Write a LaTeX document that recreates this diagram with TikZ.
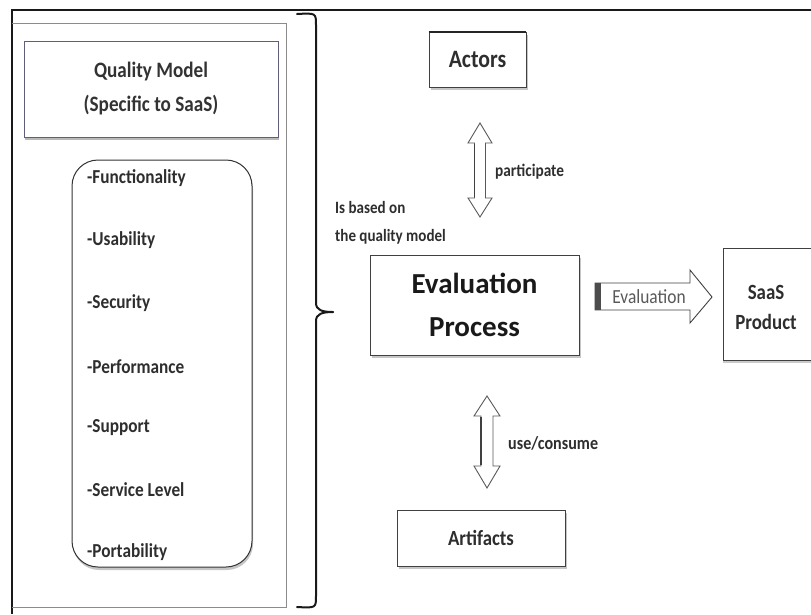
\documentclass[tikz,border=0pt]{standalone}
\usepackage{fontspec}
\setmainfont{Carlito}
\newfontfamily\cond{Carlito}[FakeStretch=0.87]
\usetikzlibrary{shadows,calc}
\tikzset{
  pbox/.style={draw=black!75, line width=0.9pt, fill=white, inner sep=0pt,
    drop shadow={shadow xshift=1.5pt, shadow yshift=-2.5pt, opacity=0.45}},
  item/.style={anchor=west, inner sep=0pt, font=\cond\bfseries\fontsize{19.8}{22}\selectfont, text=black!82},
  lbl/.style={inner sep=0pt, text=black!82},
  blockarrow/.style={draw=black!65, line width=0.9pt, fill=white, line join=miter},
}
\begin{document}
\begin{tikzpicture}[x=1pt,y=-1pt]
\useasboundingbox (0,0) rectangle (811,614);
% outer frame
\draw[line width=1.8pt, black!90] (12,614) -- (12,10) -- (811,10);
% left panel
\draw[draw=black!45, line width=1pt] (12,23) -- (286,23) -- (286,607) -- (12,607);
% quality model box
\node[draw={rgb,255:red,95;green,95;blue,125}, line width=1pt, fill=white,
  minimum width=254pt, minimum height=96pt, inner sep=0pt,
  drop shadow={shadow xshift=0.5pt, shadow yshift=-3pt, opacity=0.55},
  align=center, font=\cond\bfseries\fontsize{22}{34}\selectfont, text=black!80]
  (qm) at (151,89) {Quality Model\\(Specific to SaaS)};
% rounded list box
\node[draw=black!80, line width=1pt, fill=white, rounded corners=26pt,
  minimum width=180pt, minimum height=407pt, inner sep=0pt,
  drop shadow={shadow xshift=1pt, shadow yshift=-3pt, opacity=0.45}]
  (list) at (162,363.5) {};
\node[item] (i1) at (87,178) {-Functionality};
\node[item] (i2) at (87,240) {-Usability};
\node[item] (i3) at (87,303) {-Security};
\node[item] (i4) at (87,367) {-Performance};
\node[item] (i5) at (87,428) {-Support};
\node[item] (i6) at (87,490) {-Service Level};
\node[item] (i7) at (87,552) {-Portability};
% brace
\draw[line width=2pt, black!90, line cap=round]
  (297,14) .. controls (316,13) .. (316,25) -- (316,303)
  .. controls (316,310) and (322,312) .. (333,312);
\draw[line width=2pt, black!90, line cap=round]
  (333,312) .. controls (322,312) and (316,314) .. (316,321) -- (316,596)
  .. controls (316,608) .. (297,607);
% main boxes
\node[pbox, minimum width=97pt, minimum height=55pt, text=black!82,
  font=\cond\bfseries\fontsize{25}{27}\selectfont] (actors) at (477.5,59.5) {Actors};
\draw[line width=2pt, black!85] (actors.north west) -- (actors.north east);
\node[pbox, minimum width=209pt, minimum height=100pt, align=center, text=black!90,
  font=\fontsize{29}{43}\selectfont\bfseries] (ep) at (474.5,305) {Evaluation\\Process};
\node[pbox, minimum width=168pt, minimum height=56pt, text=black!82,
  font=\cond\bfseries\fontsize{21.6}{24}\selectfont] (art) at (481,538) {Artifacts};
% SaaS product box (cut at right edge)
\fill[black!35, opacity=0.6] (723,360) rectangle (811,363);
\draw[draw=black!75, line width=0.9pt, fill=white] (811,248) -- (723,248) -- (723,360) -- (811,360);
\node[lbl, align=center, font=\cond\bfseries\fontsize{21.7}{30}\selectfont] (saas) at (766,307) {SaaS\\Product};
% participate double arrow
\draw[blockarrow] (480,123) -- (492,143) -- (485.5,143) -- (485.5,198) -- (492,198)
  -- (480,217) -- (468,198) -- (474.5,198) -- (474.5,143) -- (468,143) -- cycle;
\draw[line width=1.6pt, black!75] (474.5,144) -- (474.5,197);
\node[lbl, anchor=west, font=\cond\bfseries\fontsize{17.6}{19}\selectfont] (part) at (495,172) {participate};
% use/consume double arrow
\draw[blockarrow] (487,396) -- (500,416) -- (493,416) -- (493,466) -- (500,466)
  -- (487,488) -- (474,466) -- (481,466) -- (481,416) -- (474,416) -- cycle;
\draw[line width=1.6pt, black!75] (481,417) -- (481,465);
\node[lbl, anchor=west, font=\cond\bfseries\fontsize{18.5}{20}\selectfont] (use) at (508,443) {use/consume};
% is based on
\node[lbl, anchor=west, align=left, font=\cond\bfseries\fontsize{17.3}{28}\selectfont] (based) at (335,223)
  {Is based on\\the quality model};
% evaluation arrow
\draw[blockarrow, draw=black!75] (595,283) -- (690,283) -- (690,270) -- (712,297) -- (690,323)
  -- (690,310) -- (595,310) -- cycle;
\fill[black!70] (595,283) rectangle (601,310);
\node[lbl, text=black!65, font=\cond\fontsize{20}{22}\selectfont] (evl) at (649,297) {Evaluation};
\end{tikzpicture}
\end{document}
